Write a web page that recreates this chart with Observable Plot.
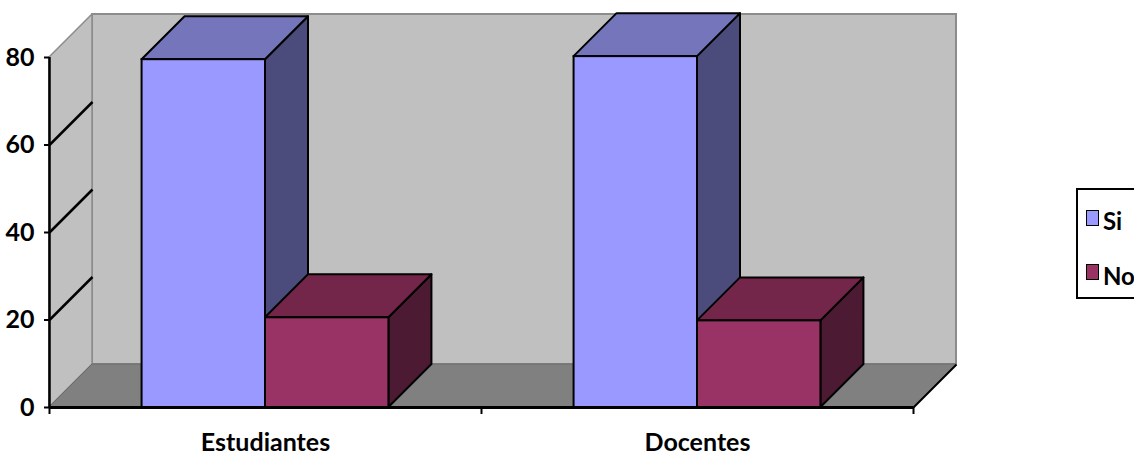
<!DOCTYPE html>
<html>
<head>
<meta charset="utf-8">
<script src="https://cdn.jsdelivr.net/npm/d3@7"></script>
<script src="https://cdn.jsdelivr.net/npm/@observablehq/plot@0.6"></script>
<style>
  html, body { margin: 0; padding: 0; background: #fff; overflow: hidden; }
  #wrap { position: relative; width: 1134px; height: 458px; overflow: hidden;
          font-family: Lato, Roboto, sans-serif; font-weight: bold; }
  #legend { position: absolute; left: 1076px; top: 188px; width: 90px; height: 107px;
            border: 2px solid #000; background: #fff; }
  .sw { position: absolute; left: 8px; width: 11px; height: 14px; border: 1.5px solid #000; }
  .lt { position: absolute; left: 25px; font-size: 24px; line-height: 24px; color: #000; }
</style>
</head>
<body>
<div id="wrap"><div id="chart"></div><div id="legend"></div></div>
<script>
// ---- data ----
const categories = ["Estudiantes", "Docentes"];
const series = ["Si", "No"];
const siValues = [79.5, 80.2];
const noValues = [20.5, 19.8];
const yTicks = [0, 20, 40, 60, 80];
const frontColors = ["#9999ff", "#993366"];
const topColors = ["#7575bb", "#732649"];
const sideColors = ["#4c4c7c", "#4d1a33"];

// ---- layout ----
const W = 1134, H = 458;
const mL = 49, mR = 221, mT = 57, mB = 51;
const yMax = 80;
const kx = (W - mL - mR) / categories.length;   // px per category unit
const ky = (H - mT - mB) / yMax;                // px per value unit
const DEPTH = 43;
const DX = DEPTH / kx, DY = DEPTH / ky;
const GAP = 1.5;                                 // gap width as fraction of bar
const bw = 1 / (series.length + GAP);
const values = [siValues, noValues];
const nCat = categories.length;
const FONT = "Lato, Roboto, sans-serif";

const bars = [];
categories.forEach((c, i) => series.forEach((s, j) => {
  bars.push({id: c + "-" + s, j, v: values[j][i], x0: i + bw * GAP / 2 + j * bw});
}));

const sides = bars.flatMap(b => [
  {id: b.id, x: b.x0 + bw, y1: 0, y2: b.v, fill: sideColors[b.j]},
  {id: b.id, x: b.x0 + bw + DX, y1: DY, y2: b.v + DY, fill: sideColors[b.j]}
]);
const tops = bars.flatMap(b => [
  {id: b.id, x: b.x0, y1: b.v, y2: b.v, fill: topColors[b.j]},
  {id: b.id, x: b.x0 + DX, y1: b.v, y2: b.v + DY, fill: topColors[b.j]},
  {id: b.id, x: b.x0 + bw, y1: b.v, y2: b.v + DY, fill: topColors[b.j]},
  {id: b.id, x: b.x0 + bw + DX, y1: b.v + DY, y2: b.v + DY, fill: topColors[b.j]}
]);

const leftWall = [
  {x: 0, y1: 0, y2: yMax},
  {x: DX, y1: DY, y2: yMax + DY}
];
const floor = [
  {x: 0, y1: 0, y2: 0},
  {x: DX, y1: 0, y2: DY},
  {x: nCat, y1: 0, y2: DY},
  {x: nCat + DX, y1: DY, y2: DY}
];
const innerTicks = yTicks.filter(t => t > 0 && t < yMax);
const boundaries = d3.range(nCat + 1);
const centers = categories.map((c, i) => i + 0.5);

const chart = Plot.plot({
  width: W, height: H,
  marginLeft: mL, marginRight: mR, marginTop: mT, marginBottom: mB,
  x: {type: "linear", domain: [0, nCat]},
  y: {type: "linear", domain: [0, yMax]},
  color: {type: "identity"},
  style: {background: "#fff", color: "#000", fontFamily: FONT, fontWeight: "bold", fontSize: "25px", overflow: "visible"},
  marks: [
    // back wall
    Plot.rect([0], {x1: DX, x2: nCat + DX, y1: DY, y2: yMax + DY, fill: "#c0c0c0", stroke: "#8c8c8c", strokeWidth: 2}),
    // left side wall
    Plot.area(leftWall, {x1: "x", y1: "y1", y2: "y2", fill: "#c0c0c0", stroke: "#8c8c8c", strokeWidth: 1.5}),
    // floor
    Plot.area(floor, {x1: "x", y1: "y1", y2: "y2", fill: "#808080", stroke: "#6a6a6a", strokeWidth: 1}),
    Plot.link([0], {x1: nCat, y1: 0, x2: nCat + DX, y2: DY, stroke: "#000", strokeWidth: 2}),
    // gridline ticks on the side wall
    Plot.link(innerTicks, {x1: 0, y1: d => d, x2: DX, y2: d => d + DY, stroke: "#000", strokeWidth: 2.5}),
    // bars
    Plot.area(sides, {x1: "x", y1: "y1", y2: "y2", z: "id", fill: "fill", stroke: "#000", strokeWidth: 2, strokeLinejoin: "round"}),
    Plot.area(tops, {x1: "x", y1: "y1", y2: "y2", z: "id", fill: "fill", stroke: "#000", strokeWidth: 2, strokeLinejoin: "round"}),
    Plot.rect(bars, {x1: "x0", x2: d => d.x0 + bw, y1: 0, y2: "v", fill: d => frontColors[d.j], stroke: "#000", strokeWidth: 2}),
    // axes
    Plot.ruleX([0], {y1: 0, y2: yMax, stroke: "#000", strokeWidth: 2.5}),
    Plot.ruleY([0], {x1: 0, x2: nCat, stroke: "#000", strokeWidth: 3}),
    Plot.axisY({ticks: yTicks, tickSize: 5, tickPadding: 10, strokeWidth: 2, fontSize: 25, fontWeight: "bold", label: null}),
    Plot.axisX({ticks: boundaries, tickSize: 7, strokeWidth: 2, tickFormat: () => "", label: null}),
    Plot.axisX({ticks: centers, tickSize: 0, tickPadding: 26, fontSize: 25, fontWeight: "bold", tickFormat: d => categories[Math.floor(d)], label: null})
  ]
});
document.getElementById("chart").appendChild(chart);

// legend
const legend = document.getElementById("legend");
series.forEach((s, j) => {
  const sw = document.createElement("div");
  sw.className = "sw";
  sw.style.top = (20 + j * 54) + "px";
  sw.style.background = frontColors[j];
  legend.appendChild(sw);
  const t = document.createElement("div");
  t.className = "lt";
  t.style.top = (19 + j * 55) + "px";
  t.textContent = s;
  legend.appendChild(t);
});
</script>
</body>
</html>
